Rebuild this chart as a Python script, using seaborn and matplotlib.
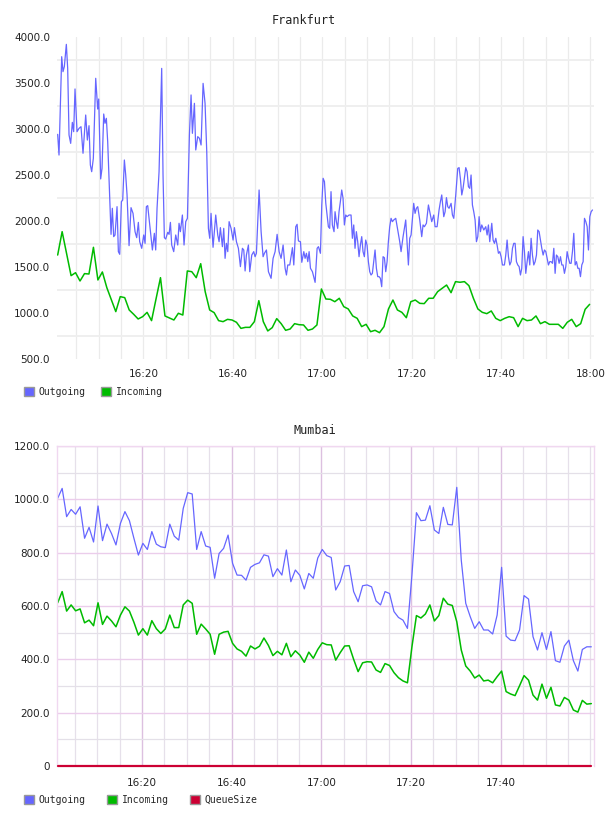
import numpy as np
import pandas as pd
import matplotlib
matplotlib.use('Agg')
import matplotlib.pyplot as plt
import matplotlib.dates as mdates
from matplotlib.patches import Patch
from matplotlib.ticker import FixedLocator, FuncFormatter
import seaborn as sns

base = pd.Timestamp('2014-03-10 16:00:00')

# Frankfurt outgoing: minutes after 16:00, values
fra_out_min = [0.82, 1.12, 1.72, 2.01, 2.31, 2.76, 3.06, 3.36, 3.73, 4.10, 4.40, 4.70, 5.15, 5.60, 6.04, 6.49,
               7.09, 7.46, 7.83, 8.13, 8.43, 8.80, 9.33, 9.77, 10.0, 10.44, 10.74, 11.12, 11.41, 11.71, 12.01,
               12.38, 12.76, 13.05, 13.35, 13.65, 14.10, 14.40, 14.70, 15.07, 15.37, 15.74, 16.04, 16.34, 16.79,
               17.23, 17.68, 18.13, 18.50, 18.87, 19.17, 19.62, 20.07, 20.37, 20.66, 20.96, 21.41, 22.01, 22.45,
               22.75, 23.05, 23.50, 24.09, 24.39, 24.69, 24.99, 25.44, 25.74, 26.04, 26.33, 26.78, 27.23, 27.68,
               27.97, 28.27, 28.72, 29.09, 29.47, 29.84, 30.29, 30.66, 30.96, 31.41, 31.71, 32.15, 32.53, 32.90,
               33.35, 33.79, 34.17, 34.54, 34.84, 35.13, 35.58, 35.88, 36.18, 36.63, 36.93, 37.22, 37.67, 37.97,
               38.27, 38.57, 38.87, 39.17, 39.61, 40.06, 40.36, 40.81, 41.25, 41.70, 42.15, 42.45, 42.75, 43.04,
               43.49, 43.79, 44.24, 44.68, 44.98, 45.28, 45.88, 46.33, 46.77, 47.07, 47.52, 47.97, 48.56, 49.01,
               49.46, 49.91, 50.36, 50.80, 51.25, 51.70, 52.00, 52.29, 52.74, 53.34, 53.64, 54.08, 54.38, 54.68,
               55.13, 55.43, 55.88, 56.17, 56.47, 56.77, 57.07, 57.37, 57.81, 58.41, 58.86, 59.16, 59.60, 59.90,
               60.20, 60.50, 60.80, 61.10,
               61.38, 61.67, 61.97, 62.27, 62.64, 62.87, 63.17, 63.46, 63.76, 64.06, 64.36, 64.66, 64.96, 65.26,
               65.55, 66.00, 66.45, 66.75, 67.05, 67.34, 67.64, 67.94, 68.24, 68.54, 68.84, 69.13, 69.43, 69.73,
               70.03, 70.33, 70.63, 70.92, 71.22, 71.52, 71.82, 72.12, 72.42, 72.72, 73.01, 73.31, 73.61, 73.91,
               74.21, 74.51, 74.80, 75.10, 75.40, 75.70, 76.00, 76.45, 76.89, 77.34, 77.64, 78.09, 78.38, 78.68,
               78.98, 79.28, 79.58, 79.88, 80.18, 80.47, 80.77, 81.07, 81.37, 81.82, 82.26, 82.56, 82.86, 83.31,
               83.76, 84.05, 84.50, 84.95, 85.25, 85.70, 86.14, 86.44, 86.74, 87.19, 87.49, 87.79, 88.08, 88.38,
               88.83, 89.13, 89.43, 89.87, 90.32, 90.62, 90.92, 91.22, 91.51, 91.81, 92.11, 92.41, 92.71, 93.01,
               93.30, 93.60, 93.90, 94.20, 94.50, 94.80, 95.10, 95.39, 95.69, 96.14, 96.59, 96.89, 97.18, 97.48,
               97.93, 98.23, 98.53, 98.83, 99.12, 99.42, 99.72, 100.02, 100.32, 100.76, 101.06, 101.36, 101.66,
               101.96, 102.26, 102.56, 102.85, 103.15, 103.45, 103.75, 104.05, 104.35, 104.64, 104.94, 105.24,
               105.54, 105.84, 106.14, 106.43, 106.73, 107.03, 107.33, 107.63, 107.93, 108.22, 108.52, 108.82,
               109.12, 109.42, 109.72, 110.02, 110.31, 110.61, 110.91, 111.21, 111.51, 111.81, 112.10, 112.40,
               112.70, 113.00, 113.30, 113.60, 113.89, 114.19, 114.49, 114.79, 115.09, 115.39, 115.68, 115.98,
               116.28, 116.58, 116.88, 117.18, 117.47, 117.77, 118.07, 118.37, 118.67, 118.97, 119.27, 119.56,
               119.86, 120.16, 120.46]
fra_out = [2942, 2717, 3786, 3623, 3678, 3920, 3659, 2935, 2844, 3072, 2971, 3435, 2971, 3007, 3025, 2736,
           3152, 2880, 3036, 2609, 2536, 2681, 3551, 3217, 3326, 2457, 2572, 3163, 3062, 3116, 2862,
           2355, 1855, 2138, 1830, 1848, 2156, 1667, 1638, 2210, 2228, 2663, 2500, 2283, 1732,
           2145, 2083, 1884, 1819, 1985, 1775, 1703, 1848, 1757, 2156, 2167, 1957, 1685, 1866,
           1685, 2138, 2536, 3659, 2500, 1819, 1804, 1877, 1855, 1985, 1739, 1667, 1848, 1739,
           1975, 1884, 2065, 1739, 1993, 2029, 2935, 3370, 2953, 3279, 2772, 2917, 2899, 2826,
           3496, 3279, 2754, 1920, 1812, 2083, 1714, 1884, 2065, 1848, 1775, 1928, 1721, 1920,
           1594, 1757, 1667, 1993, 1920, 1793, 1928, 1775, 1703, 1504, 1703, 1685, 1457, 1630,
           1739, 1449, 1630, 1667, 1612, 1649, 2337, 1884, 1612, 1649, 1685, 1449, 1377, 1594,
           1667, 1855, 1667, 1594, 1739, 1486, 1413, 1522, 1522, 1710, 1522, 1938, 1964, 1783,
           1775, 1551, 1667, 1594, 1649, 1558, 1667, 1486, 1449, 1333, 1703, 1721, 1649, 2174,
           2464, 2428, 2192, 2065,
           1938, 1920, 2319, 1957, 1884, 2101, 1993, 1920, 2101, 2210, 2337, 2246, 1957, 2065,
           2047, 2065, 2065, 1812, 1957, 1703, 1884, 1775, 1612, 1739, 1830, 1667, 1612, 1793,
           1739, 1558, 1449, 1413, 1431, 1558, 1685, 1486, 1395, 1395, 1377, 1286, 1612, 1601,
           1449, 1558, 1775, 1938, 2029, 1993, 2011, 2029, 1902, 1775, 1667, 1830, 1920, 2011,
           1775, 1522, 1812, 1848, 2029, 2192, 2083, 2138, 2156, 2011, 1830, 1957, 1938, 1975,
           2174, 2101, 1993, 2065, 1938, 1938, 2120, 2210, 2283, 2047, 2101, 2254, 2156, 2138,
           2192, 2065, 2029, 2283, 2572, 2580, 2457, 2283, 2355, 2464, 2580, 2536, 2373, 2355,
           2500, 2174, 2101, 2011, 1775, 1830, 2047, 1884, 1957, 1902, 1938, 1848, 1957, 1775,
           1975, 1793, 1757, 1812, 1739, 1649, 1667, 1612, 1522, 1522, 1630, 1793, 1612,
           1522, 1558, 1703, 1757, 1757, 1558, 1522, 1504, 1413, 1486, 1830, 1667,
           1431, 1558, 1667, 1522, 1812, 1630, 1522, 1558, 1630, 1902, 1884, 1793,
           1703, 1630, 1685, 1667, 1594, 1522, 1558, 1558, 1540, 1703, 1431, 1630,
           1612, 1540, 1612, 1522, 1522, 1431, 1504, 1667, 1594, 1540, 1540, 1667,
           1866, 1522, 1558, 1486, 1486, 1395, 1522, 1558, 2029, 1993, 1938, 1685,
           2047, 2101, 2120]

# Frankfurt incoming: one sample per minute
fra_in_start = 0.82
fra_in = [1630, 1884, 1645, 1406, 1438, 1348, 1428, 1424, 1714, 1359, 1446, 1275, 1145, 1015, 1178, 1167,
          1033, 986, 935, 960, 1007, 917, 1152, 1384, 968, 946, 924, 997, 978, 1457, 1449, 1384, 1536, 1232,
          1033, 1004, 917, 906, 931, 924, 899, 833, 844, 844, 906, 1134, 906, 805, 841, 939, 884, 812, 826,
          884, 873, 870, 812, 826, 870, 1261, 1152,
          1149, 1123, 1160, 1069, 1044, 968, 942, 852, 877, 797, 812, 786, 852, 1044, 1141, 1033, 1007, 949,
          1123, 1141, 1105, 1102, 1160, 1160, 1232, 1268, 1304, 1221, 1341, 1334, 1341, 1297, 1160, 1044,
          1007, 993, 1022, 942, 917, 942, 960, 949, 852, 942, 917, 924, 968, 884, 906, 877, 877, 877, 833,
          899, 931, 852, 884, 1040, 1094]

# Mumbai: one sample per minute
mum_start = 1.2
mum_out = [1004, 1041, 935, 962, 944, 972, 854, 895, 840, 975, 845, 907, 872, 829, 910, 954, 920, 854,
           791, 835, 812, 879, 832, 822, 819, 907, 862, 847, 966, 1025, 1020, 812, 879, 825, 820, 704, 797,
           816, 866, 760, 716, 715, 697, 745, 756, 762, 792, 787, 710, 740, 716, 810, 691, 735, 715, 664,
           722, 704, 780, 812, 789,
           782, 660, 691, 750, 752, 654, 616, 676, 679, 672, 619, 604, 654, 647, 579, 557, 547, 516, 716,
           950, 920, 922, 976, 885, 872, 970, 906, 904, 1045, 772, 610, 560, 516, 541, 510, 510, 495, 566,
           745, 487, 472, 470, 510, 639, 626, 485, 435, 500, 437, 504, 395, 389, 450, 472, 395, 356, 437,
           447, 447]
mum_in = [612, 654, 581, 604, 582, 589, 537, 547, 526, 612, 531, 562, 544, 522, 566, 597, 581, 539, 491,
          515, 491, 545, 515, 497, 514, 566, 519, 519, 604, 622, 610, 494, 532, 514, 494, 419, 494, 502, 505,
          460, 439, 430, 412, 450, 439, 449, 480, 452, 414, 430, 417, 460, 410, 432, 416, 389, 427, 404, 437,
          462, 455,
          454, 397, 425, 450, 451, 400, 354, 387, 391, 390, 360, 351, 384, 377, 350, 331, 319, 312, 447, 564,
          555, 570, 604, 544, 564, 629, 607, 602, 541, 435, 375, 356, 330, 341, 319, 322, 312, 335, 356, 279,
          270, 264, 301, 339, 322, 266, 247, 307, 254, 295, 229, 225, 257, 247, 210, 202, 246, 232, 234]
mum_queue = [0] * len(mum_out)

c_out = '#6666ff'
c_in = '#00bb00'
c_q = '#cc0033'

fra_out_df = pd.DataFrame({'t': base + pd.to_timedelta(fra_out_min, unit='min'), 'v': fra_out})
fra_in_df = pd.DataFrame({'t': pd.date_range(base + pd.Timedelta(minutes=fra_in_start), periods=len(fra_in), freq='1min'),
                          'v': fra_in})
mum_t = pd.date_range(base + pd.Timedelta(minutes=mum_start), periods=len(mum_out), freq='1min')
mum_df = pd.DataFrame({'t': mum_t, 'out': mum_out, 'in': mum_in, 'q': mum_queue})

sns.set_style('white')
plt.rcParams['font.family'] = ['DejaVu Sans']

fig = plt.figure(figsize=(6.08, 8.16), dpi=100)
W, H = 608, 816
ax1 = fig.add_axes([57 / W, 1 - 359 / H, 537 / W, 322 / H])
ax2 = fig.add_axes([57 / W, 1 - 766 / H, 537 / W, 320 / H])

sns.lineplot(data=fra_out_df, x='t', y='v', ax=ax1, color=c_out, lw=0.9, estimator=None)
sns.lineplot(data=fra_in_df, x='t', y='v', ax=ax1, color=c_in, lw=1.1, estimator=None)

sns.lineplot(data=mum_df, x='t', y='out', ax=ax2, color=c_out, lw=0.9, estimator=None)
sns.lineplot(data=mum_df, x='t', y='in', ax=ax2, color=c_in, lw=1.1, estimator=None)
sns.lineplot(data=mum_df, x='t', y='q', ax=ax2, color=c_q, lw=1.6, estimator=None, clip_on=False, zorder=5)

fmt = mdates.DateFormatter('%H:%M')

# Frankfurt
ax1.set_xlim(base + pd.Timedelta(minutes=0.67), base + pd.Timedelta(minutes=120.8))
ax1.set_ylim(500, 4000)
ax1.xaxis.set_major_locator(mdates.MinuteLocator(byminute=[0, 20, 40]))
ax1.xaxis.set_minor_locator(mdates.MinuteLocator(byminute=range(0, 60, 5)))
ax1.xaxis.set_major_formatter(fmt)
ax1.yaxis.set_major_locator(FixedLocator(np.arange(500, 4001, 500)))
ax1.yaxis.set_minor_locator(FixedLocator(np.arange(750, 4000, 500)))
ax1.yaxis.set_major_formatter(FuncFormatter(lambda v, p: f'{v:.1f}'))
ax1.grid(False)
ax1.grid(True, axis='x', which='both', color='#ebebeb', lw=0.9)
ax1.grid(True, axis='y', which='minor', color='#efefef', lw=1.4)
for s in ax1.spines.values():
    s.set_visible(False)

# Mumbai
ax2.set_xlim(base + pd.Timedelta(minutes=1.05), base + pd.Timedelta(minutes=120.8))
ax2.set_ylim(0, 1200)
ax2.xaxis.set_major_locator(FixedLocator(mdates.date2num([base + pd.Timedelta(minutes=m) for m in [20, 40, 60, 80, 100]])))
ax2.xaxis.set_minor_locator(mdates.MinuteLocator(byminute=range(0, 60, 5)))
ax2.xaxis.set_major_formatter(fmt)
ax2.yaxis.set_major_locator(FixedLocator(np.arange(0, 1201, 200)))
ax2.yaxis.set_minor_locator(FixedLocator(np.arange(100, 1200, 200)))
ax2.yaxis.set_major_formatter(FuncFormatter(lambda v, p: '0' if v == 0 else f'{v:.1f}'))
ax2.grid(False)
ax2.grid(True, axis='x', which='major', color='#dcc0e0', lw=1.0)
ax2.grid(True, axis='x', which='minor', color='#e6e0ea', lw=0.9)
ax2.grid(True, axis='y', which='major', color='#ebcdeb', lw=1.0)
ax2.grid(True, axis='y', which='minor', color='#e4e0e8', lw=0.9)
for k in ['left', 'top', 'right']:
    ax2.spines[k].set_color('#f0d8f0')
    ax2.spines[k].set_linewidth(1.0)
ax2.spines['bottom'].set_visible(False)

fig.text(304 / W, 1 - 20 / H, 'Frankfurt', family='DejaVu Sans Mono', fontsize=8.5,
         ha='center', va='center', color='#222222')
fig.text(315 / W, 1 - 430 / H, 'Mumbai', family='DejaVu Sans Mono', fontsize=8.5,
         ha='center', va='center', color='#222222')

for ax in (ax1, ax2):
    ax.set_xlabel('')
    ax.set_ylabel('')
    ax.tick_params(axis='both', which='both', length=0, labelsize=7.5, colors='#222222')
    ax.tick_params(axis='y', pad=5)
ax1.tick_params(axis='x', pad=7)
ax2.tick_params(axis='x', pad=9)

def legend(ax, names, colors, y, spacing):
    handles = [Patch(facecolor=c, edgecolor='#999999', linewidth=1.0, label=n) for n, c in zip(names, colors)]
    ax.legend(handles=handles, loc='center left', bbox_to_anchor=(24 / W, 1 - y / H),
              bbox_transform=fig.transFigure, frameon=False, ncol=len(names),
              handlelength=1.0, handleheight=1.0, handletextpad=0.5, columnspacing=spacing,
              borderpad=0, borderaxespad=0, prop={'family': 'DejaVu Sans Mono', 'size': 7})

legend(ax1, ['Outgoing', 'Incoming'], [c_out, c_in], 392, 1.6)
legend(ax2, ['Outgoing', 'Incoming', 'QueueSize'], [c_out, c_in, c_q], 800, 2.2)

fig.savefig('out.png', dpi=100)
